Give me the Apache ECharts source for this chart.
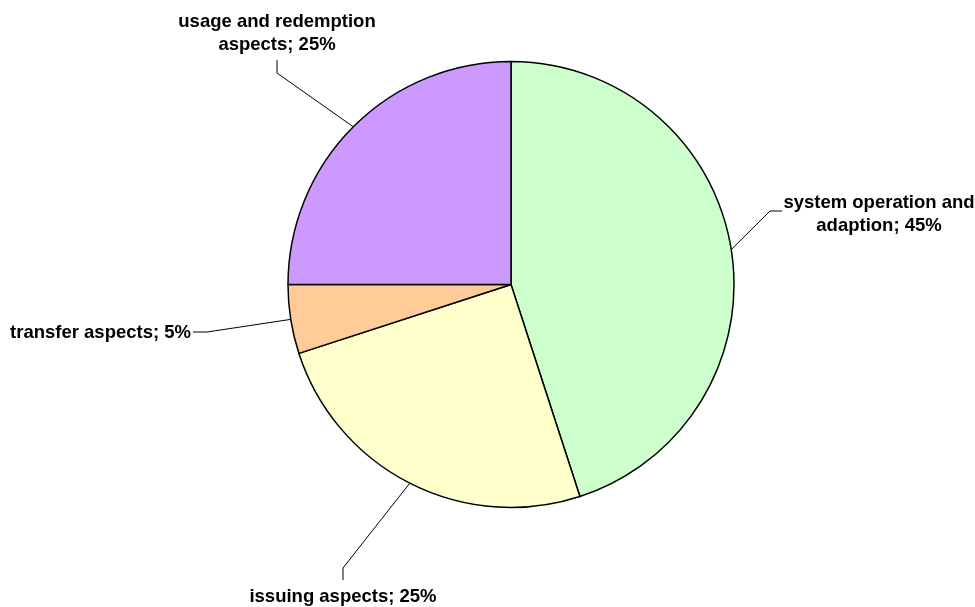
<!DOCTYPE html>
<html>
<head>
<meta charset="utf-8">
<script src="https://cdn.jsdelivr.net/npm/echarts@6/dist/echarts.min.js"></script>
<style>
html,body{margin:0;padding:0;background:#fff;}
#chart{width:975px;height:607px;}
</style>
</head>
<body>
<div id="chart"></div>
<script>
// Data
const categories = ['system operation and\nadaption', 'issuing aspects', 'transfer aspects', 'usage and redemption\naspects'];
const values = [45, 25, 5, 25];
const colors = ['#CCFFCC', '#FFFFCC', '#FFCC99', '#CC99FF'];

// Label placement (layout only)
const labelLayouts = [
  { x: 879, y: 214, align: 'center', bend: [770, 211], end: [782, 211] },
  { x: 343, y: 597, align: 'center', bend: [343, 568], end: [343, 580] },
  { x: 191, y: 333, align: 'right', bend: [207, 332], end: [193, 332] },
  { x: 277, y: 33, align: 'center', bend: [277, 73], end: [277, 60] }
];

const chart = echarts.init(document.getElementById('chart'), null, { renderer: 'canvas' });
const data = categories.map((c, i) => ({ name: c, value: values[i], itemStyle: { color: colors[i] } }));
const total = values.reduce((a, b) => a + b, 0);

chart.setOption({
  animation: false,
  backgroundColor: '#ffffff',
  series: [{
    type: 'pie',
    center: [511, 284.5],
    radius: [0, 223],
    startAngle: 90,
    clockwise: true,
    data: data,
    itemStyle: { borderColor: '#000', borderWidth: 1.5 },
    label: {
      show: true,
      position: 'outside',
      fontFamily: 'Arial, "Liberation Sans", sans-serif',
      fontWeight: 'bold',
      fontSize: 18.5,
      lineHeight: 23,
      color: '#000',
      formatter: p => p.name + '; ' + Math.round(p.value / total * 100) + '%'
    },
    labelLine: { show: true, length: 20, length2: 10, lineStyle: { color: '#000', width: 1 } },
    labelLayout: function (params) {
      const L = labelLayouts[params.dataIndex];
      const p0 = params.labelLinePoints ? params.labelLinePoints[0] : L.bend;
      return {
        x: L.x, y: L.y, align: L.align, verticalAlign: 'middle',
        labelLinePoints: [p0, L.bend, L.end]
      };
    }
  }]
});
</script>
</body>
</html>
